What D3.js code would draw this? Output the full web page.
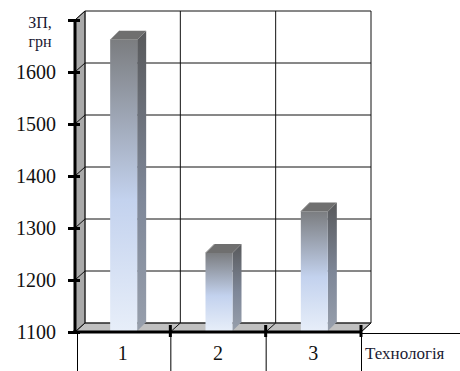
<!DOCTYPE html>
<html>
<head>
<meta charset="utf-8">
<script src="https://cdn.jsdelivr.net/npm/d3@7"></script>
<style>
  body { margin: 0; background: #fff; }
  svg { display: block; }
  svg text { font-family: "Liberation Serif", "Times New Roman", serif; }
</style>
</head>
<body>
<svg class="chart"></svg>
<script>
// data
const categories = ["1", "2", "3"];
const values = [1660, 1250, 1330];
const yTicks = [1100, 1200, 1300, 1400, 1500, 1600, 1700];
const yTitle = ["ЗП,", "грн"];
const xTitle = "Технологія";

const width = 460;
const height = 371;
const depthX = 10;   // 3d wall depth
const depthY = -9;

const x = d3.scaleBand()
  .domain(categories)
  .range([75, 361])
  .padding(0);

const y = d3.scaleLinear()
  .domain([1100, 1700])
  .range([332, 20]);

const svg = d3.select("svg.chart")
  .attr("width", width)
  .attr("height", height)
  .attr("viewBox", `0 0 ${width} ${height}`);

const defs = svg.append("defs");

function grad(id, stops) {
  const g = defs.append("linearGradient")
    .attr("id", id)
    .attr("x1", 0).attr("y1", 0).attr("x2", 0).attr("y2", 1);
  stops.forEach(([o, c]) => g.append("stop").attr("offset", o).attr("stop-color", c));
}
grad("front", [[0, "#7b7d80"], [0.55, "#c3d2ee"], [1, "#e7eef9"]]);
grad("side", [[0, "#58595b"], [0.55, "#7e8798"], [1, "#979fac"]]);

const x0 = x.range()[0];
const x1 = x.range()[1];
const yBottom = y(1100);
const yTop = y(1700);

// back wall
svg.append("rect")
  .attr("x", x0 + depthX).attr("y", yTop + depthY)
  .attr("width", x1 - x0).attr("height", yBottom - yTop)
  .attr("fill", "#fff");

// left side wall
svg.append("path")
  .attr("d", `M${x0},${yTop}L${x0 + depthX},${yTop + depthY}L${x0 + depthX},${yBottom + depthY}L${x0},${yBottom}Z`)
  .attr("fill", "#a9a9a9")
  .attr("stroke", "#555")
  .attr("stroke-width", 1);

// floor
svg.append("path")
  .attr("d", `M${x0},${yBottom}L${x0 + depthX},${yBottom + depthY}L${x1 + depthX},${yBottom + depthY}L${x1},${yBottom}Z`)
  .attr("fill", "#c0c0c0")
  .attr("stroke", "#555")
  .attr("stroke-width", 1);

// horizontal gridlines (left wall + back wall)
const grid = svg.append("g")
  .attr("stroke", "#111")
  .attr("stroke-width", 1)
  .attr("fill", "none");

grid.selectAll("path.h")
  .data(yTicks)
  .join("path")
  .attr("class", "h")
  .attr("d", d => `M${x0},${y(d)}L${x0 + depthX},${y(d) + depthY}H${x1 + depthX}`);

// vertical gridlines on back wall and floor dividers
const bounds = categories.map(c => x(c) + x.bandwidth());
grid.selectAll("path.v")
  .data(bounds)
  .join("path")
  .attr("class", "v")
  .attr("d", d => `M${d},${yBottom}L${d + depthX},${yBottom + depthY}V${yTop + depthY}`);

grid.append("path")
  .attr("d", `M${x0 + depthX},${yBottom + depthY}V${yTop + depthY}`);

// bars
const barW = 27;
const barD = 9;
const off = 1;
const bars = svg.append("g")
  .selectAll("g")
  .data(values.map((v, i) => ({ cat: categories[i], value: v })))
  .join("g");

bars.each(function(d) {
  const g = d3.select(this);
  const left = x(d.cat) + x.bandwidth() / 2 - barW / 2 + off;
  const top = y(d.value) - off;
  const bottom = yBottom - off;
  // side
  g.append("path")
    .attr("d", `M${left + barW},${top}L${left + barW + barD},${top - barD}L${left + barW + barD},${bottom - barD}L${left + barW},${bottom}Z`)
    .attr("fill", "url(#side)");
  // top
  g.append("path")
    .attr("d", `M${left},${top}L${left + barD},${top - barD}H${left + barW + barD}L${left + barW},${top}Z`)
    .attr("fill", "#6f6f6f");
  g.append("path")
    .attr("d", `M${left},${top}L${left + barD},${top - barD}`)
    .attr("stroke", "#a0a0a0")
    .attr("stroke-width", 1);
  // front
  g.append("rect")
    .attr("x", left).attr("y", top)
    .attr("width", barW).attr("height", bottom - top)
    .attr("fill", "url(#front)");
});

// y axis
svg.append("line")
  .attr("x1", x0).attr("x2", x0)
  .attr("y1", yTop).attr("y2", yBottom + 1)
  .attr("stroke", "#000").attr("stroke-width", 3);

svg.append("g")
  .attr("transform", `translate(${x0 + 5},0)`)
  .call(d3.axisLeft(y).tickValues(yTicks).tickSize(12).tickPadding(12)
    .tickFormat(d => d === 1700 ? "" : d))
  .call(g => g.select(".domain").remove())
  .call(g => g.attr("font-family", null))
  .call(g => g.selectAll(".tick line").attr("stroke", "#000").attr("stroke-width", 3))
  .call(g => g.selectAll(".tick text")
    .attr("fill", "#111")
    .style("font-size", "20px"));

// y title
svg.append("text")
  .attr("x", 40)
  .attr("text-anchor", "middle")
  .attr("fill", "#1a1a33")
  .style("font-size", "16px")
  .selectAll("tspan")
  .data(yTitle)
  .join("tspan")
  .attr("x", 40)
  .attr("y", (d, i) => 28 + i * 19)
  .text(d => d);

// x axis line
svg.append("line")
  .attr("x1", x0 - 2).attr("x2", x1)
  .attr("y1", yBottom).attr("y2", yBottom)
  .attr("stroke", "#000").attr("stroke-width", 3);

// boundary ticks
svg.append("g")
  .selectAll("line")
  .data(bounds)
  .join("line")
  .attr("x1", d => d).attr("x2", d => d)
  .attr("y1", yBottom - 7).attr("y2", yBottom + 5)
  .attr("stroke", "#000").attr("stroke-width", 3);

// table below axis
const table = svg.append("g")
  .attr("stroke", "#000").attr("stroke-width", 1);
table.selectAll("line")
  .data([x0 + 2, ...bounds])
  .join("line")
  .attr("x1", d => d + 0.5).attr("x2", d => d + 0.5)
  .attr("y1", yBottom).attr("y2", height);
table.append("line")
  .attr("x1", x1).attr("x2", width)
  .attr("y1", yBottom + 1.5).attr("y2", yBottom + 1.5);

svg.append("g")
  .attr("transform", `translate(0,${yBottom})`)
  .call(d3.axisBottom(x).tickSize(0).tickPadding(14))
  .call(g => g.select(".domain").remove())
  .call(g => g.attr("font-family", null))
  .call(g => g.selectAll(".tick text")
    .attr("fill", "#111")
    .attr("dy", "0.71em")
    .style("font-size", "20px"));

svg.append("text")
  .attr("x", 365)
  .attr("y", 359)
  .attr("fill", "#1a1a33")
  .style("font-size", "17px")
  .text(xTitle);
</script>
</body>
</html>
